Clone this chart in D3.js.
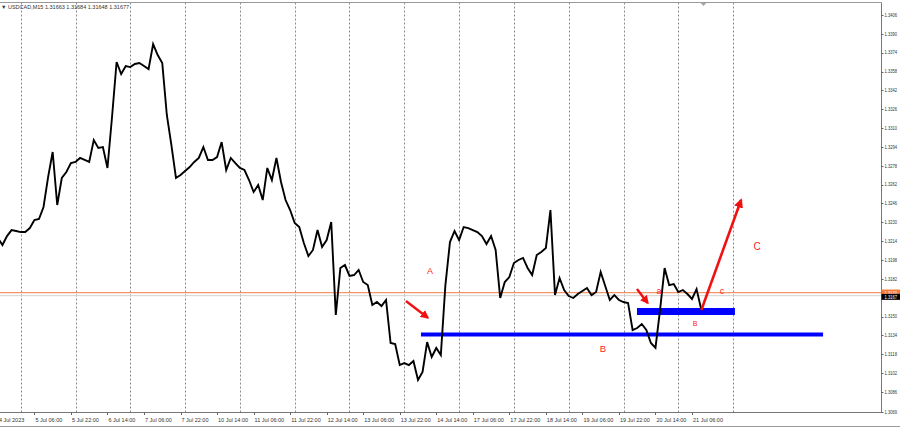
<!DOCTYPE html>
<html><head><meta charset="utf-8">
<script src="https://cdn.jsdelivr.net/npm/d3@7"></script>
<style>html,body{margin:0;padding:0;background:#fff;overflow:hidden}svg{display:block}</style>
</head><body>
<svg id="c" width="900" height="428"></svg>
<script>
// ---------- data ----------
const symbolTitle = "USDCAD,M15  1.31663 1.31684 1.31648 1.31677";
const firstBarHour = 14;   // trading hours since 4 Jul 2023 00:00 (weekend removed)
const barStepHours = 2;
const closes = [
  1.32166, 1.32107, 1.32183, 1.32234, 1.32226, 1.32217, 1.32217, 1.32251, 1.32319, 1.32328,
  1.32430, 1.32684, 1.32897, 1.32447, 1.32676, 1.32727, 1.32803, 1.32812, 1.32846, 1.32829,
  1.32812, 1.32998, 1.32931, 1.32939, 1.32761, 1.33194, 1.33661, 1.33559, 1.33627, 1.33618,
  1.33644, 1.33652, 1.33627, 1.33601, 1.33813, 1.33720, 1.33652, 1.33211, 1.32956, 1.32676,
  1.32701, 1.32735, 1.32769, 1.32812, 1.32846, 1.32939, 1.32829, 1.32829, 1.32854, 1.32981,
  1.32744, 1.32846, 1.32803, 1.32761, 1.32744, 1.32659, 1.32557, 1.32616, 1.32489, 1.32761,
  1.32659, 1.32846, 1.32642, 1.32489, 1.32404, 1.32294, 1.32260, 1.32124, 1.32014, 1.32065,
  1.32234, 1.32090, 1.32149, 1.32302, 1.31513, 1.31912, 1.31937, 1.31844, 1.31852, 1.31895,
  1.31793, 1.31767, 1.31598, 1.31623, 1.31589, 1.31640, 1.31275, 1.31266, 1.31088, 1.31105,
  1.31088, 1.31122, 1.30961, 1.31029, 1.31283, 1.31156, 1.31233, 1.31173, 1.31767, 1.32132,
  1.32226, 1.32149, 1.32260, 1.32251, 1.32234, 1.32217, 1.32183, 1.32115, 1.32183, 1.32065,
  1.31657, 1.31793, 1.31835, 1.31954, 1.31980, 1.31997, 1.31912, 1.31852, 1.32022, 1.32048,
  1.32082, 1.32404, 1.31682, 1.31827, 1.31725, 1.31674, 1.31657, 1.31691, 1.31716, 1.31742,
  1.31682, 1.31708, 1.31878, 1.31759, 1.31640, 1.31682, 1.31640, 1.31623, 1.31615, 1.31385,
  1.31402, 1.31436, 1.31385, 1.31275, 1.31233, 1.31555, 1.31912, 1.31767, 1.31776, 1.31708,
  1.31725, 1.31691, 1.31649, 1.31733, 1.31564
];
const yTickLabels = ["1.3406","1.3390","1.3374","1.3358","1.3342","1.3326","1.3310","1.3294",
  "1.3278","1.3262","1.3246","1.3230","1.3214","1.3198","1.3182","1.3150","1.3134","1.3118",
  "1.3102","1.3086","1.3069"];
const xTickHours = [14,30,46,62,78,94,110,126,142,158,174,190,206,222,238,254,270,286,302,318];
const xTickLabels = ["4 Jul 2023","5 Jul 06:00","5 Jul 22:00","6 Jul 14:00","7 Jul 06:00",
  "7 Jul 22:00","10 Jul 14:00","11 Jul 06:00","11 Jul 22:00","12 Jul 14:00","13 Jul 06:00",
  "13 Jul 22:00","14 Jul 14:00","17 Jul 06:00","17 Jul 22:00","18 Jul 14:00","19 Jul 06:00",
  "19 Jul 22:00","20 Jul 14:00","21 Jul 06:00"];
const daySeparatorHours = [24,48,72,96,120,144,168,192,216,240,264,288,312,336];
const askPrice = 1.31702, bidPrice = 1.31677;
const askLabel = "1.3170", bidLabel = "1.3167";
// drawn objects (hour, price)
const blueLevels = [
  {h0:199.3, h1:375.4, p:1.31347, w:4},
  {h0:293.9, h1:336.8, p:1.31542, w:7}
];
const redArrows = [
  {h0:192.7, p0:1.31632, h1:202.3, p1:1.31490, w:2.4},
  {h0:293.9, p0:1.31733, h1:298.6, p1:1.31615, w:2.4},
  {h0:322.1, p0:1.31555, h1:339.5, p1:1.32489, w:2.6}
];
const waveLabels = [
  {t:"A", h:203.3, p:1.31886, s:9},
  {t:"B", h:279.0, p:1.31224, s:9.5},
  {t:"B", h:319.3, p:1.31436, s:7},
  {t:"a", h:303.6, p:1.31716, s:9},
  {t:"c", h:331.1, p:1.31716, s:9},
  {t:"C", h:346.5, p:1.32098, s:10}
];

// ---------- scales ----------
const W = 900, H = 428;
const plotRight = 881, plotTop = 2.5, plotBottom = 412;
const x = d3.scaleLinear().domain([0, 312]).range([-34.1, 678.3]);
const y = d3.scaleLinear().domain([1.3069, 1.3406]).range([411.9, 15]);

const svg = d3.select("#c");
svg.append("rect").attr("width", W).attr("height", H).attr("fill", "#fff");
const defs = svg.append("defs");
defs.append("clipPath").attr("id", "plot").append("rect")
  .attr("x", 0).attr("y", plotTop).attr("width", plotRight).attr("height", plotBottom - plotTop);
defs.append("marker").attr("id", "ah").attr("viewBox", "0 0 10 10").attr("refX", 8).attr("refY", 5)
  .attr("markerWidth", 3.6).attr("markerHeight", 3.6).attr("orient", "auto")
  .attr("markerUnits", "strokeWidth")
  .append("path").attr("d", "M0,0 L10,5 L0,10 z").attr("fill", "#f01212");

const font = "'Liberation Sans', Arial, sans-serif";
const g = svg.append("g").attr("clip-path", "url(#plot)");

// day separators
g.selectAll("line.sep").data(daySeparatorHours).join("line").attr("class", "sep")
  .attr("x1", d => Math.round(x(d)) + 0.5).attr("x2", d => Math.round(x(d)) + 0.5)
  .attr("y1", plotTop).attr("y2", plotBottom)
  .attr("stroke", "#8a8a8a").attr("stroke-width", 1).attr("stroke-dasharray", "2,2");

// bid / ask lines
g.append("line").attr("x1", 0).attr("x2", plotRight).attr("y1", y(bidPrice)).attr("y2", y(bidPrice))
  .attr("stroke", "#d4d4d4").attr("stroke-width", 1);
g.append("line").attr("x1", 0).attr("x2", plotRight).attr("y1", y(askPrice)).attr("y2", y(askPrice))
  .attr("stroke", "#f57a3d").attr("stroke-width", 1);

// blue levels
g.selectAll("line.lvl").data(blueLevels).join("line").attr("class", "lvl")
  .attr("x1", d => x(d.h0)).attr("x2", d => x(d.h1)).attr("y1", d => y(d.p)).attr("y2", d => y(d.p))
  .attr("stroke", "#0000ff").attr("stroke-width", d => d.w);

// price line
const line = d3.line().x((d, i) => x(firstBarHour + i * barStepHours)).y(d => y(d));
g.append("path").datum(closes).attr("d", line).attr("fill", "none")
  .attr("stroke", "#000").attr("stroke-width", 1.9).attr("stroke-linejoin", "miter");

// red arrows
g.selectAll("line.arr").data(redArrows).join("line").attr("class", "arr")
  .attr("x1", d => x(d.h0)).attr("y1", d => y(d.p0)).attr("x2", d => x(d.h1)).attr("y2", d => y(d.p1))
  .attr("stroke", "#f01212").attr("stroke-width", d => d.w).attr("marker-end", "url(#ah)");

// wave labels
g.selectAll("text.wl").data(waveLabels).join("text").attr("class", "wl")
  .attr("x", d => x(d.h)).attr("y", d => y(d.p)).attr("dy", "0.35em")
  .attr("text-anchor", "middle").attr("font-family", font).attr("font-size", d => d.s)
  .attr("fill", "#ff2020").text(d => d.t);

// frame
svg.append("line").attr("x1", 0).attr("x2", plotRight + 0.5).attr("y1", plotTop).attr("y2", plotTop)
  .attr("stroke", "#9a9a9a");
svg.append("line").attr("x1", plotRight + 0.5).attr("x2", plotRight + 0.5).attr("y1", plotTop).attr("y2", plotBottom + 0.5)
  .attr("stroke", "#777");
svg.append("line").attr("x1", 0).attr("x2", plotRight + 0.5).attr("y1", plotBottom + 0.5).attr("y2", plotBottom + 0.5)
  .attr("stroke", "#777");
svg.append("line").attr("x1", 0).attr("x2", W).attr("y1", 426.5).attr("y2", 426.5).attr("stroke", "#999");
// shift marker
svg.append("path").attr("d", `M${x(323)-3},${plotTop+0.5} L${x(323)+3},${plotTop+0.5} L${x(323)},${plotTop+3.5} z`)
  .attr("fill", "#aaa");

// title
svg.append("text").attr("x", 1).attr("y", 9).attr("font-family", font).attr("font-size", 5.5)
  .attr("fill", "#333").text("\u25BC " + symbolTitle);

// y axis
const yAxisG = svg.append("g").attr("font-family", font).attr("font-size", 5).attr("fill", "#333");
yAxisG.selectAll("line").data(yTickLabels).join("line")
  .attr("x1", plotRight).attr("x2", plotRight + 2.5)
  .attr("y1", d => Math.round(y(+d)) + 0.5).attr("y2", d => Math.round(y(+d)) + 0.5)
  .attr("stroke", "#666");
yAxisG.selectAll("text").data(yTickLabels).join("text")
  .attr("x", plotRight + 3.5).attr("y", d => y(+d)).attr("dy", "0.35em")
  .attr("textLength", 12.5).attr("lengthAdjust", "spacingAndGlyphs").text(d => d);

// ask / bid boxes
svg.append("rect").attr("x", plotRight + 0.5).attr("y", y(askPrice) - 3.2).attr("width", 18.5).attr("height", 5)
  .attr("fill", "#f57a3d");
svg.append("text").attr("x", plotRight + 3.5).attr("y", y(askPrice) - 0.6).attr("dy", "0.35em")
  .attr("font-family", font).attr("font-size", 4.3).attr("fill", "#fff")
  .attr("textLength", 12.5).attr("lengthAdjust", "spacingAndGlyphs").text(askLabel);
svg.append("rect").attr("x", plotRight + 0.5).attr("y", y(bidPrice) - 1.8).attr("width", 18.5).attr("height", 6)
  .attr("fill", "#000");
svg.append("text").attr("x", plotRight + 3.5).attr("y", y(bidPrice) + 1.2).attr("dy", "0.35em")
  .attr("font-family", font).attr("font-size", 5).attr("fill", "#fff")
  .attr("textLength", 12.5).attr("lengthAdjust", "spacingAndGlyphs").text(bidLabel);

// x axis
const xAxisG = svg.append("g").attr("font-family", font).attr("font-size", 5.5).attr("fill", "#333");
xAxisG.selectAll("line").data(xTickHours).join("line")
  .attr("x1", d => Math.round(x(d)) + 0.5).attr("x2", d => Math.round(x(d)) + 0.5)
  .attr("y1", plotBottom).attr("y2", plotBottom + 3).attr("stroke", "#666");
xAxisG.selectAll("text").data(xTickHours).join("text")
  .attr("x", d => x(d) + 1).attr("y", 421.5).text((d, i) => xTickLabels[i]);
</script>
</body></html>
